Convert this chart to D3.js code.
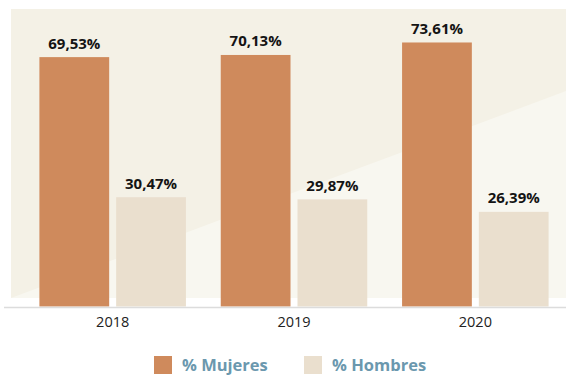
<!DOCTYPE html>
<html>
<head>
<meta charset="utf-8">
<script src="https://cdn.jsdelivr.net/npm/d3@7"></script>
<style>
  html, body { margin: 0; padding: 0; background: #ffffff; }
  svg { display: block; }
</style>
</head>
<body>
<svg id="chart" width="566" height="375"></svg>
<script>
// Years shown on the x axis
const years = ["2018", "2019", "2020"];
// Share of women and men per year (%)
const mujeres = [69.53, 70.13, 73.61];
const hombres = [30.47, 29.87, 26.39];
const seriesNames = ["% Mujeres", "% Hombres"];
const seriesColors = ["#cf8a5c", "#eadfce"];

const svg = d3.select("#chart");
const W = 566, H = 375;
const baseY = 306.5;

// Decorative backdrop panel with a lighter diagonal wedge
svg.append("rect")
  .attr("x", 11).attr("y", 9)
  .attr("width", W - 11).attr("height", 298 - 9)
  .attr("fill", "#f4f1e6");
svg.append("path")
  .attr("d", `M11,298 L${W},91 L${W},298 Z`)
  .attr("fill", "#f8f7f0");

const x0 = d3.scaleBand()
  .domain(years)
  .range([22, 566])
  .paddingInner(0.192)
  .paddingOuter(0.096);

const x1 = d3.scaleBand()
  .domain(seriesNames)
  .range([0, x0.bandwidth()])
  .paddingInner(0.091);

const y = d3.scaleLinear()
  .domain([0, 75])
  .range([baseY, 37.5]);

const rows = years.map((yr, i) => ({
  year: yr,
  values: [
    { key: seriesNames[0], value: mujeres[i], color: seriesColors[0] },
    { key: seriesNames[1], value: hombres[i], color: seriesColors[1] }
  ]
}));

const fmt = v => v.toFixed(2).replace(".", ",") + "%";

const groups = svg.append("g").selectAll("g")
  .data(rows)
  .join("g")
  .attr("transform", d => `translate(${x0(d.year)},0)`);

groups.selectAll("rect")
  .data(d => d.values)
  .join("rect")
  .attr("x", d => x1(d.key))
  .attr("y", d => y(d.value))
  .attr("width", x1.bandwidth())
  .attr("height", d => y(0) - y(d.value))
  .attr("fill", d => d.color);

groups.selectAll("text.val")
  .data(d => d.values)
  .join("text")
  .attr("class", "val")
  .attr("x", d => x1(d.key) + x1.bandwidth() / 2)
  .attr("y", d => y(d.value) - 8.5)
  .attr("text-anchor", "middle")
  .attr("font-family", "'Open Sans', sans-serif")
  .attr("font-weight", "bold")
  .attr("font-size", "15px")
  .attr("fill", "#141414")
  .text(d => fmt(d.value));

// X axis
const xAxis = svg.append("g")
  .attr("transform", `translate(0,${baseY})`)
  .call(d3.axisBottom(x0).tickSize(0).tickPadding(10));
xAxis.select(".domain").remove();
xAxis.selectAll("text")
  .attr("font-family", "'Open Sans', sans-serif")
  .attr("font-size", "14.5px")
  .attr("fill", "#222222");
svg.append("line")
  .attr("x1", 4).attr("x2", W)
  .attr("y1", baseY + 1).attr("y2", baseY + 1)
  .attr("stroke", "#dcdcdc")
  .attr("stroke-width", 1.5);

// Legend
const legendX = [154, 304];
const legend = svg.append("g").selectAll("g")
  .data(seriesNames)
  .join("g")
  .attr("transform", (d, i) => `translate(${legendX[i]},356)`);
legend.append("rect")
  .attr("width", 18).attr("height", 18)
  .attr("fill", (d, i) => seriesColors[i]);
legend.append("text")
  .attr("x", 28).attr("y", 15)
  .attr("font-family", "'Open Sans', sans-serif")
  .attr("font-weight", "bold")
  .attr("font-size", "16.5px")
  .attr("fill", "#6b98ae")
  .text(d => d);
</script>
</body>
</html>
